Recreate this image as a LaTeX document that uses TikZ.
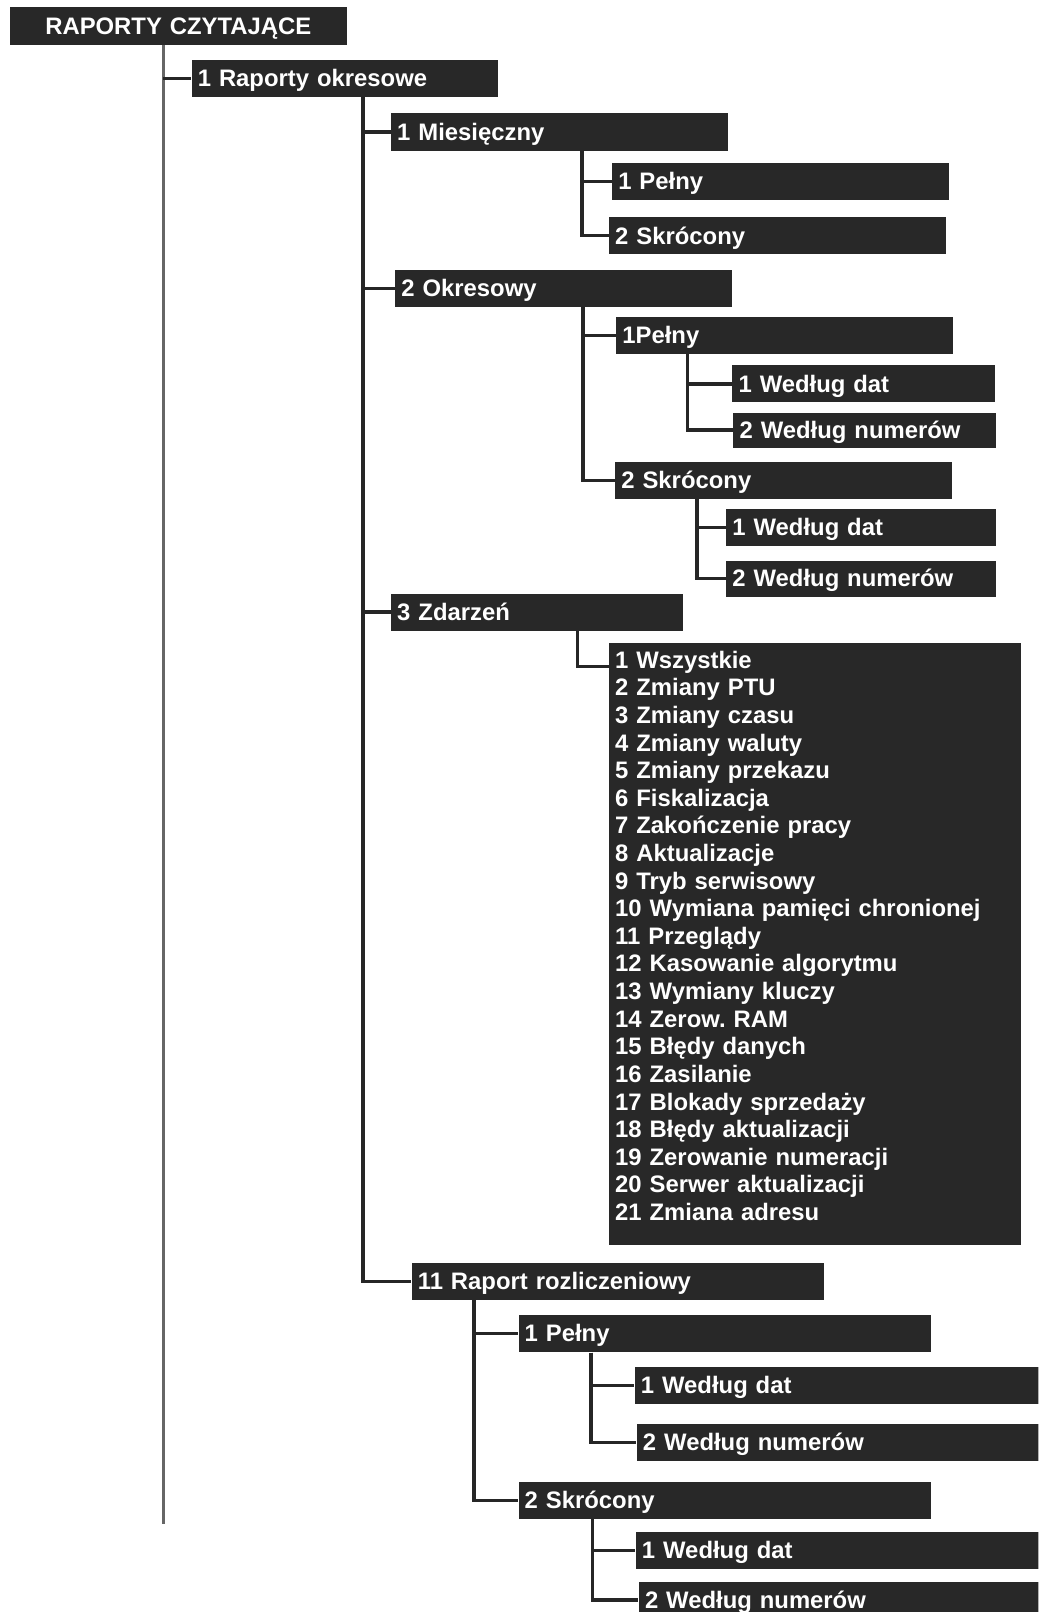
\documentclass[tikz,border=0pt]{standalone}
\usepackage{fontspec}
\setmainfont{Liberation Sans}
\frenchspacing
\usetikzlibrary{calc}
\definecolor{boxfill}{HTML}{282828}
\definecolor{linecol}{HTML}{262626}
\definecolor{spinecol}{HTML}{666666}
\tikzset{
  boxst/.style={fill=boxfill, draw=none, text=white,
    font=\fontsize{11.6pt}{13.43pt}\selectfont\bfseries,
    inner xsep=3pt, inner ysep=0pt, text height=10.5pt, text depth=2.55pt,
    align=left, anchor=north west},
  listst/.style={text=white, font=\fontsize{11.6pt}{13.43pt}\selectfont\bfseries,
    inner sep=0pt, align=left, anchor=base west},
  conn/.style={draw=linecol, line width=1.6pt},
  spine/.style={draw=spinecol, line width=1.6pt},
}
\newcommand\bx[7][]{%
  \pgfmathsetmacro\bxw{(#5-#3)*0.5-6}%
  \pgfmathsetmacro\bxh{(#6-#4)*0.5}%
  \node[boxst, text width=\bxw pt, minimum height=\bxh pt, #1] (#2) at (#3,#4) {#7};}
\newcommand\lk[3]{\draw[conn] ($(#1.south west)+(#2,0)$) |- (#3);}
\begin{document}
\begin{tikzpicture}[x=0.5pt,y=-0.5pt]
\useasboundingbox (0,0) rectangle (1010,1568);
\clip (0,0) rectangle (1010,1568);
\fill[white] (0,0) rectangle (1010,1568);

\bx[align=center, text height=9.2pt, text depth=0.6pt]{root}{9}{6}{337}{43}{RAPORTY CZYTAJĄCE}
\bx{ro}{186}{58}{484}{94}{1 Raporty okresowe}
\bx{mies}{380}{110}{708}{146}{1 Miesięczny}
\bx{miesP}{595}{158}{923}{194}{1 Pełny}
\bx{miesS}{592}{211}{920}{247}{2 Skrócony}
\bx{okr}{384}{262}{712}{298}{2 Okresowy}
\bx{okrP}{599}{308}{927}{344}{1Pełny}
\bx{okrPd}{712}{355}{967}{391}{1 Według dat}
\bx{okrPn}{713}{401}{968}{435}{2 Według numerów}
\bx{okrS}{598}{449}{926}{485}{2 Skrócony}
\bx{okrSd}{706}{495}{968}{531}{1 Według dat}
\bx{okrSn}{706}{545}{968}{580}{2 Według numerów}
\bx{zd}{380}{577}{664}{613}{3 Zdarzeń}
\bx{zdl}{592}{625}{993}{1211}{}
\node[listst, text width=190pt] (zdt) at ($(zdl.north west)+(6,25)$) {1 Wszystkie\\
2 Zmiany PTU\\
3 Zmiany czasu\\
4 Zmiany waluty\\
5 Zmiany przekazu\\
6 Fiskalizacja\\
7 Zakończenie pracy\\
8 Aktualizacje\\
9 Tryb serwisowy\\
10 Wymiana pamięci chronionej\\
11 Przeglądy\\
12 Kasowanie algorytmu\\
13 Wymiany kluczy\\
14 Zerow. RAM\\
15 Błędy danych\\
16 Zasilanie\\
17 Blokady sprzedaży\\
18 Błędy aktualizacji\\
19 Zerowanie numeracji\\
20 Serwer aktualizacji\\
21 Zmiana adresu};
\bx{rr}{400}{1228}{801}{1264}{11 Raport rozliczeniowy}
\bx{rrP}{504}{1279}{905}{1315}{1 Pełny}
\bx{rrPd}{617}{1329}{1010}{1365}{1 Według dat}
\bx{rrPn}{619}{1385}{1010}{1421}{2 Według numerów}
\bx{rrS}{504}{1441}{905}{1477}{2 Skrócony}
\bx{rrSd}{618}{1490}{1010}{1526}{1 Według dat}
\bx{rrSn}{621}{1538}{1010}{1574}{2 Według numerów}

% main grey spine
\coordinate (gend) at (159,1482);
\draw[spine] (root.south -| gend) -- (gend);
\draw[conn] (gend |- ro.west) -- (ro.west);

% connectors
\lk{ro}{167}{mies.west}
\lk{ro}{167}{okr.west}
\lk{ro}{167}{zd.west}
\lk{ro}{167}{rr.west}
\lk{mies}{186}{miesP.west}
\lk{mies}{186}{miesS.west}
\lk{okr}{183}{okrP.west}
\lk{okr}{183}{okrS.west}
\lk{okrP}{69.5}{okrPd.west}
\lk{okrP}{69.5}{okrPn.west}
\lk{okrS}{80}{okrSd.west}
\lk{okrS}{80}{okrSn.west}
\coordinate (zdin) at ($(zdl.north west)+(0,23)$);
\lk{zd}{182}{zdin}
\lk{rr}{61}{rrP.west}
\lk{rr}{61}{rrS.west}
\lk{rrP}{71}{rrPd.west}
\lk{rrP}{71}{rrPn.west}
\lk{rrS}{72.5}{rrSd.west}
\lk{rrS}{72.5}{rrSn.west}
\end{tikzpicture}
\end{document}
